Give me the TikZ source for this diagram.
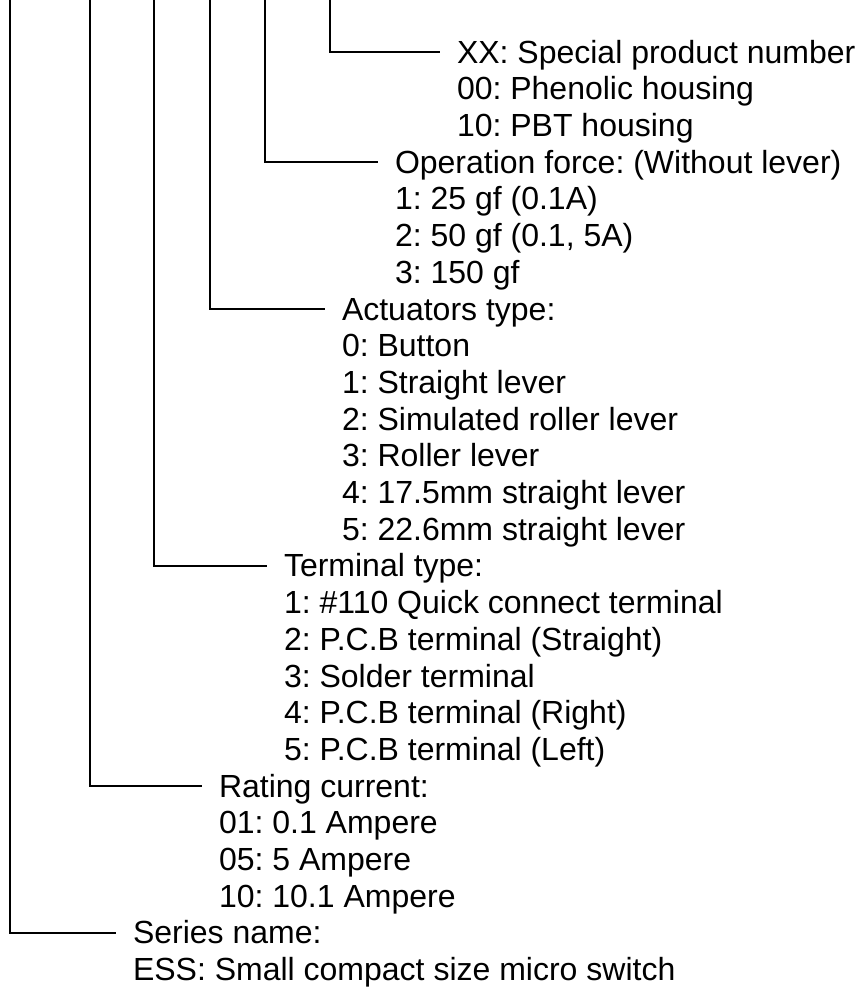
\documentclass[tikz,border=0pt]{standalone}
\usepackage{fontspec}
\setmainfont{Liberation Sans}
\frenchspacing
\usetikzlibrary{positioning}

\begin{document}
\begin{tikzpicture}[
    x=1pt, y=-1pt,
    entry/.style={anchor=west, inner xsep=17pt, inner ysep=0pt, outer sep=0pt, text height=29.5pt, text depth=7.2pt, font=\fontsize{32}{36.7}\selectfont},
    item/.style={entry, below=0pt of #1.south west, anchor=north west},
    leader/.style={line width=1.6pt, black},
]
\useasboundingbox (0,0) rectangle (859,989);
% Top ends of the leaders
\coordinate (t1) at (10,0);
\coordinate (t2) at (90,0);
\coordinate (t3) at (154,0);
\coordinate (t4) at (210,0);
\coordinate (t5) at (265,0);
\coordinate (t6) at (330,0);
% Special product number
\node[entry] (xx) at (440,52) {XX: Special product number};
\node[item=xx] (xx1) {00: Phenolic housing};
\node[item=xx1] (xx2) {10: PBT housing};
% Operation force
\node[entry] (force) at (378,162.1) {Operation force: (Without lever)};
\node[item=force] (force1) {1: 25 gf (0.1A)};
\node[item=force1] (force2) {2: 50 gf (0.1, 5A)};
\node[item=force2] (force3) {3: 150 gf};
% Actuators type
\node[entry] (act) at (325,308.9) {Actuators type:};
\node[item=act] (act1) {0: Button};
\node[item=act1] (act2) {1: Straight lever};
\node[item=act2] (act3) {2: Simulated roller lever};
\node[item=act3] (act4) {3: Roller lever};
\node[item=act4] (act5) {4: 17.5mm straight lever};
\node[item=act5] (act6) {5: 22.6mm straight lever};
% Terminal type
\node[entry] (term) at (267,565.8) {Terminal type:};
\node[item=term] (term1) {1: \#110 Quick connect terminal};
\node[item=term1] (term2) {2: P.C.B terminal (Straight)};
\node[item=term2] (term3) {3: Solder terminal};
\node[item=term3] (term4) {4: P.C.B terminal (Right)};
\node[item=term4] (term5) {5: P.C.B terminal (Left)};
% Rating current
\node[entry] (rate) at (202,786) {Rating current:};
\node[item=rate] (rate1) {01: 0.1 Ampere};
\node[item=rate1] (rate2) {05: 5 Ampere};
\node[item=rate2] (rate3) {10: 10.1 Ampere};
% Series name
\node[entry] (series) at (116,932.8) {Series name:};
\node[item=series] (series1) {ESS: Small compact size micro switch};

\draw[leader] (t1) |- (series.west);
\draw[leader] (t2) |- (rate.west);
\draw[leader] (t3) |- (term.west);
\draw[leader] (t4) |- (act.west);
\draw[leader] (t5) |- (force.west);
\draw[leader] (t6) |- (xx.west);
\end{tikzpicture}
\end{document}
